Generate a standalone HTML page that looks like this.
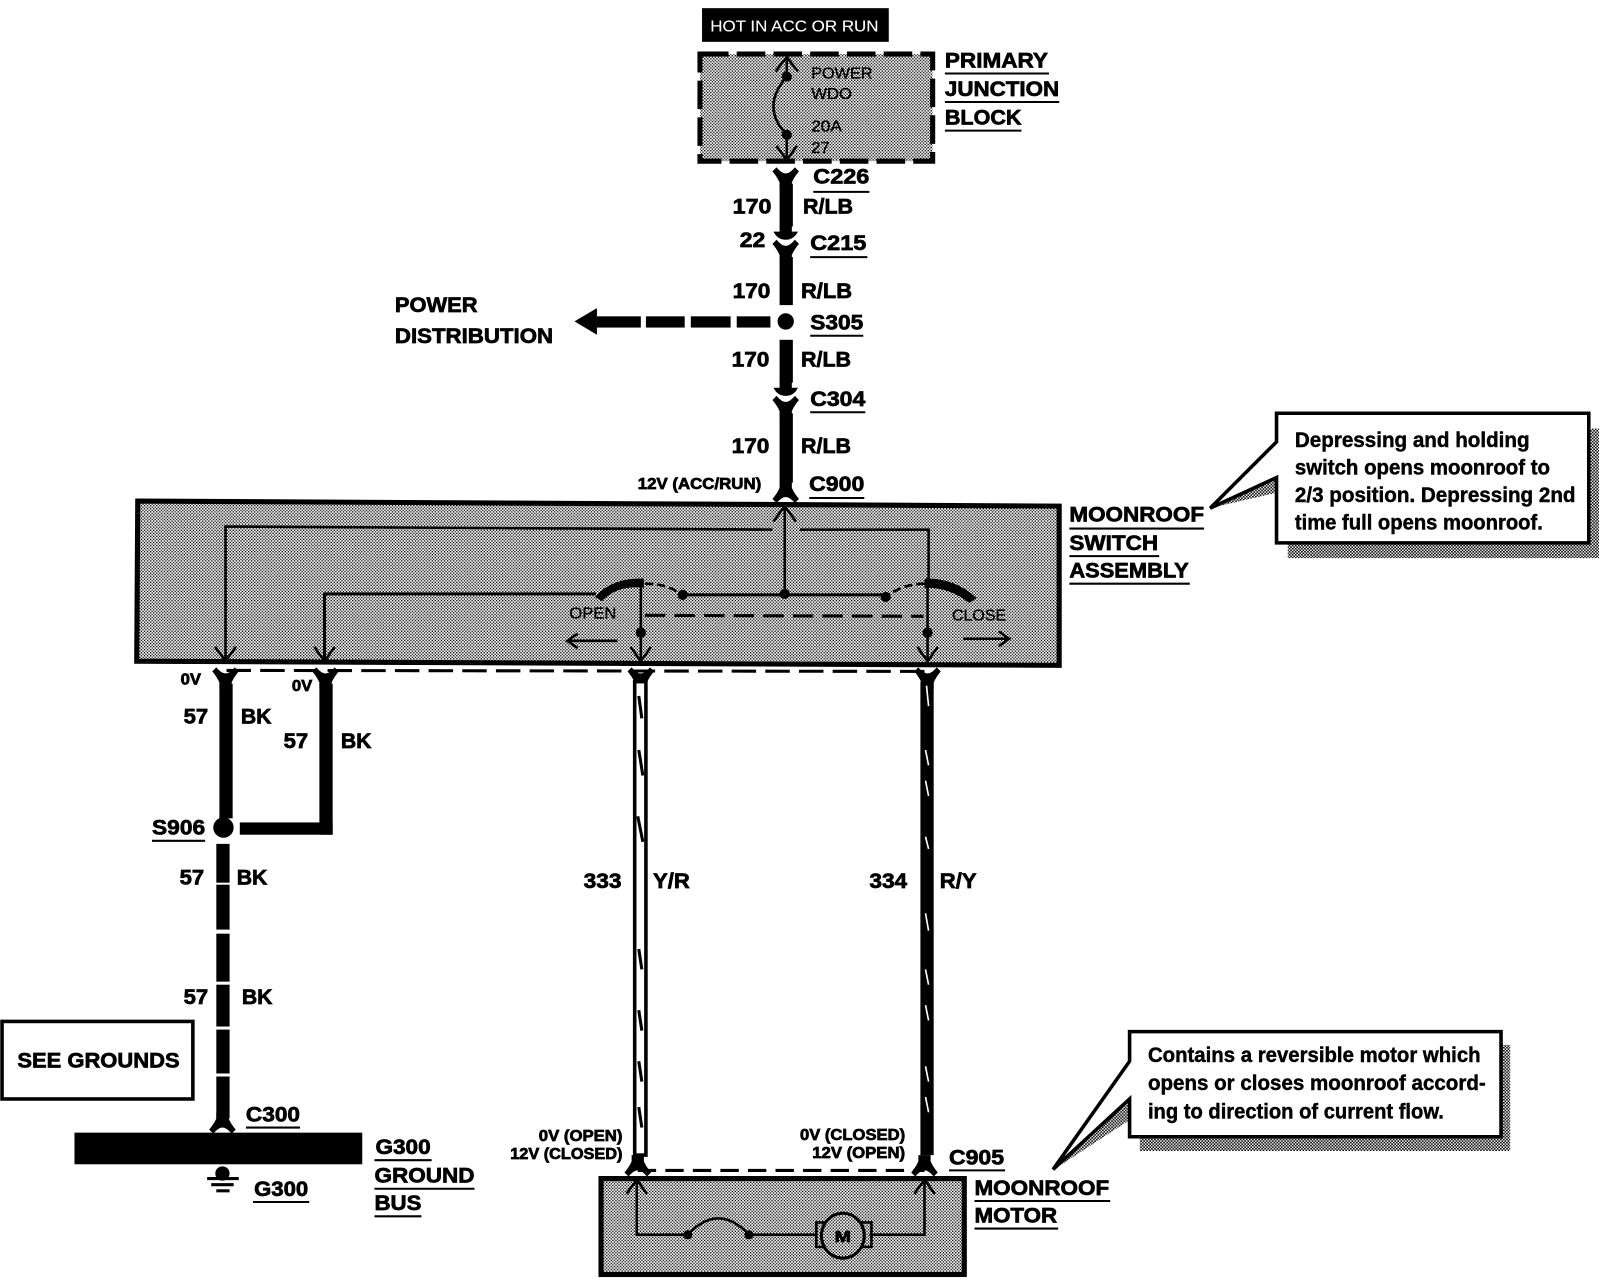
<!DOCTYPE html>
<html><head><meta charset="utf-8"><style>
html,body{margin:0;padding:0;background:#fff}
svg{display:block}
text{font-family:"Liberation Sans",sans-serif;font-weight:700;fill:#000;stroke:#000;stroke-width:.7}
.b{font-size:21px}.m{font-size:20px}.s{font-size:15px}
.t{font-size:21px;stroke-width:.45}
.n{font-weight:400;stroke-width:.35}
line,.l{stroke:#000;fill:none}
</style></head><body>
<svg width="1600" height="1280" viewBox="0 0 1568 1254.4" xmlns="http://www.w3.org/2000/svg">
<defs>
<pattern id="st" width="3" height="3" patternUnits="userSpaceOnUse"><rect width="3" height="3" fill="#fff"/><rect x="0" y="0" width="1.3" height="1.3" fill="#000"/><rect x="1.5" y="1.5" width="1.3" height="1.3" fill="#000"/></pattern>
<pattern id="sh" width="3" height="3" patternUnits="userSpaceOnUse"><rect width="3" height="3" fill="#fff"/><rect x="0" y="0" width="1.6" height="1.5" fill="#000"/><rect x="1.5" y="1.5" width="1.6" height="1.5" fill="#000"/></pattern>
<path id="y" d="M-13 1L-9-3Q-4 3 0 3Q4 3 9-3L13 1Q8 7 6 12L6 18L-6 18L-6 12Q-8 7-13 1Z" fill="#000"/>
<path id="c" d="M-6-14L6-14L6-8L12-8Q8 0 0 0Q-8 0-12-8L-6-8Z" fill="#000"/>
<path id="v" d="M-10-14L0 0L10-14" fill="none" stroke="#000" stroke-width="2.5"/>
</defs>
<rect width="1568" height="1255" fill="#fff"/>

<!-- top label and junction block -->
<rect x="688" y="8" width="183" height="33" fill="#000"/>
<text x="696" y="31" class="s" textLength="165" lengthAdjust="spacingAndGlyphs" style="fill:#fff;stroke:#fff;stroke-width:.1;font-weight:400">HOT IN ACC OR RUN</text>
<rect x="686" y="53" width="228" height="105" fill="url(#st)" stroke="#000" stroke-width="5" stroke-dasharray="28 8"/>
<path class="l" stroke-width="2.5" d="M771 56V75Q745 105 771 132V156"/>
<path class="l" stroke-width="2.5" d="M760 70L771 56L782 70"/>
<use href="#v" x="771" y="157"/>
<circle cx="771" cy="75" r="5"/><circle cx="771" cy="132" r="5"/>
<text x="795" y="77" class="s n" textLength="60" lengthAdjust="spacingAndGlyphs">POWER</text>
<text x="795" y="97" class="s n" textLength="40" lengthAdjust="spacingAndGlyphs">WDO</text>
<text x="795" y="129" class="s n" textLength="30" lengthAdjust="spacingAndGlyphs">20A</text>
<text x="795" y="150" class="s n" textLength="18" lengthAdjust="spacingAndGlyphs">27</text>
<text x="926" y="66" class="b" textLength="101" lengthAdjust="spacingAndGlyphs">PRIMARY</text>
<line x1="926" y1="72" x2="1028" y2="72" stroke-width="2"/>
<text x="926" y="94" class="b" textLength="112" lengthAdjust="spacingAndGlyphs">JUNCTION</text>
<line x1="926" y1="100" x2="1038" y2="100" stroke-width="2"/>
<text x="926" y="122" class="b" textLength="75" lengthAdjust="spacingAndGlyphs">BLOCK</text>
<line x1="926" y1="128" x2="1001" y2="128" stroke-width="2"/>

<!-- main vertical wire -->
<use href="#y" x="770" y="167"/>
<rect x="764" y="180" width="13" height="42"/>
<use href="#c" x="770" y="235"/>
<use href="#y" x="770" y="238"/>
<rect x="764" y="252" width="13" height="47"/>
<circle cx="770" cy="315" r="8"/>
<rect x="764" y="333" width="13" height="42"/>
<use href="#c" x="770" y="388"/>
<use href="#y" x="770" y="391"/>
<rect x="764" y="405" width="13" height="68"/>
<g transform="translate(770,490) scale(1,-1)"><use href="#y"/></g>
<g stroke="#fff" stroke-width="1.6">
<line x1="771" y1="193" x2="772" y2="207"/><line x1="770" y1="277" x2="773" y2="291"/>
<line x1="770" y1="340" x2="772" y2="358"/><line x1="770" y1="408" x2="773" y2="424"/>
</g>
<text x="797" y="180" class="b" textLength="55" lengthAdjust="spacingAndGlyphs">C226</text><line x1="797" y1="188" x2="852" y2="188" stroke-width="2"/>
<text x="718" y="209" class="b" textLength="38" lengthAdjust="spacingAndGlyphs">170</text>
<text x="787" y="209" class="b" textLength="49" lengthAdjust="spacingAndGlyphs">R/LB</text>
<text x="725" y="242" class="b" textLength="25" lengthAdjust="spacingAndGlyphs">22</text>
<text x="794" y="245" class="b" textLength="55" lengthAdjust="spacingAndGlyphs">C215</text><line x1="794" y1="252" x2="850" y2="252" stroke-width="2"/>
<text x="718" y="292" class="b" textLength="37" lengthAdjust="spacingAndGlyphs">170</text>
<text x="785" y="292" class="b" textLength="50" lengthAdjust="spacingAndGlyphs">R/LB</text>
<text x="794" y="323" class="b" textLength="52" lengthAdjust="spacingAndGlyphs">S305</text><line x1="794" y1="329" x2="846" y2="329" stroke-width="2"/>
<text x="717" y="359" class="b" textLength="37" lengthAdjust="spacingAndGlyphs">170</text>
<text x="785" y="359" class="b" textLength="49" lengthAdjust="spacingAndGlyphs">R/LB</text>
<text x="794" y="398" class="b" textLength="54" lengthAdjust="spacingAndGlyphs">C304</text><line x1="794" y1="404" x2="848" y2="404" stroke-width="2"/>
<text x="717" y="444" class="b" textLength="37" lengthAdjust="spacingAndGlyphs">170</text>
<text x="785" y="444" class="b" textLength="49" lengthAdjust="spacingAndGlyphs">R/LB</text>
<text x="625" y="479" class="s" textLength="121" lengthAdjust="spacingAndGlyphs">12V (ACC/RUN)</text>
<text x="793" y="481" class="b" textLength="54" lengthAdjust="spacingAndGlyphs">C900</text><line x1="793" y1="488" x2="847" y2="488" stroke-width="2"/>

<!-- power distribution arrow -->
<path d="M563 315L585 302V328Z"/>
<rect x="585" y="310" width="43" height="11"/><rect x="633" y="310" width="38" height="11"/><rect x="677" y="310" width="39" height="11"/><rect x="722" y="310" width="33" height="11"/>
<g stroke="#fff" stroke-width="1.5"><line x1="600" y1="316" x2="612" y2="314"/><line x1="646" y1="316" x2="658" y2="314"/><line x1="690" y1="316" x2="702" y2="314"/><line x1="733" y1="316" x2="745" y2="314"/></g>
<text x="387" y="306" class="b" textLength="81" lengthAdjust="spacingAndGlyphs">POWER</text>
<text x="387" y="336" class="b" textLength="155" lengthAdjust="spacingAndGlyphs">DISTRIBUTION</text>

<!-- moonroof switch assembly -->
<path d="M135 491L1038 496V652L134 648Z" fill="url(#st)" stroke="#000" stroke-width="5"/>
<path class="l" stroke-width="2.5" d="M221 648V516L757 519"/>
<path class="l" stroke-width="2.5" d="M784 519H910V570"/>
<path class="l" stroke-width="2.5" d="M769 495V582"/>
<path class="l" stroke-width="2.5" d="M758 511L769 496L780 511"/>
<path class="l" stroke-width="3" d="M669 583H868"/>
<path class="l" stroke-width="3" d="M318 648V582H584"/>
<use href="#v" x="221" y="648"/><use href="#v" x="318" y="648"/><use href="#v" x="628" y="648"/><use href="#v" x="909" y="648"/>
<circle cx="669" cy="583" r="5"/><circle cx="769" cy="582" r="5"/><circle cx="868" cy="585" r="5"/>
<path d="M583 585Q600 566 631 567L631 576Q605 573 590 589Z"/>
<path d="M957 586Q935 566 906 567L906 576Q930 575 950 591Z"/>
<path class="l" stroke-width="2.5" stroke-dasharray="8 4" d="M632 572Q655 572 668 583"/>
<path class="l" stroke-width="2.5" stroke-dasharray="8 4" d="M906 572Q885 572 868 585"/>
<line x1="628" y1="572" x2="628" y2="648" stroke-width="2.5"/>
<line x1="909" y1="572" x2="909" y2="648" stroke-width="2.5"/>
<circle cx="628" cy="620" r="5"/><circle cx="909" cy="620" r="5"/>
<line x1="632" y1="603" x2="905" y2="604" stroke-width="3" stroke-dasharray="20 9"/>
<text x="558" y="606" class="s n" textLength="46" lengthAdjust="spacingAndGlyphs">OPEN</text>
<text x="933" y="608" class="s n" textLength="53" lengthAdjust="spacingAndGlyphs">CLOSE</text>
<path class="l" stroke-width="2.5" d="M605 628H556M566 621L556 628L566 635"/>
<path class="l" stroke-width="2.5" d="M944 626H989M979 619L989 626L979 633"/>
<text x="1048" y="511" class="b" textLength="132" lengthAdjust="spacingAndGlyphs">MOONROOF</text><line x1="1048" y1="518" x2="1180" y2="518" stroke-width="2"/>
<text x="1048" y="539" class="b" textLength="87" lengthAdjust="spacingAndGlyphs">SWITCH</text><line x1="1048" y1="545" x2="1136" y2="545" stroke-width="2"/>
<text x="1048" y="566" class="b" textLength="117" lengthAdjust="spacingAndGlyphs">ASSEMBLY</text><line x1="1048" y1="572" x2="1166" y2="572" stroke-width="2"/>

<!-- C900 lower -->
<line x1="222" y1="657" x2="910" y2="658" stroke-width="3" stroke-dasharray="24 9"/>
<use href="#y" x="221" y="657"/><use href="#y" x="319" y="657"/><use href="#y" x="628" y="657"/><use href="#y" x="909" y="657"/>
<rect x="215" y="670" width="13" height="132"/>
<rect x="313" y="670" width="13" height="148"/>
<rect x="235" y="806" width="91" height="12"/>
<circle cx="219" cy="811" r="10"/>
<rect x="212" y="827" width="13" height="38"/><rect x="212" y="867" width="13" height="44"/><rect x="212" y="915" width="13" height="47"/>
<rect x="212" y="965" width="13" height="41"/><rect x="212" y="1009" width="13" height="43"/>
<rect x="212" y="1055" width="13" height="41"/>
<g transform="translate(218,1108) scale(1,-1)"><use href="#y"/></g>
<text x="177" y="671" class="s" textLength="20" lengthAdjust="spacingAndGlyphs">0V</text>
<text x="286" y="677" class="s" textLength="20" lengthAdjust="spacingAndGlyphs">0V</text>
<text x="180" y="709" class="b" textLength="24" lengthAdjust="spacingAndGlyphs">57</text>
<text x="236" y="709" class="b" textLength="30" lengthAdjust="spacingAndGlyphs">BK</text>
<text x="278" y="733" class="b" textLength="24" lengthAdjust="spacingAndGlyphs">57</text>
<text x="334" y="733" class="b" textLength="30" lengthAdjust="spacingAndGlyphs">BK</text>
<text x="149" y="818" class="b" textLength="52" lengthAdjust="spacingAndGlyphs">S906</text><line x1="149" y1="824" x2="201" y2="824" stroke-width="2"/>
<text x="176" y="867" class="b" textLength="24" lengthAdjust="spacingAndGlyphs">57</text>
<text x="232" y="867" class="b" textLength="30" lengthAdjust="spacingAndGlyphs">BK</text>
<text x="180" y="984" class="b" textLength="24" lengthAdjust="spacingAndGlyphs">57</text>
<text x="237" y="984" class="b" textLength="30" lengthAdjust="spacingAndGlyphs">BK</text>

<!-- see grounds / bus -->
<rect x="2" y="1001" width="187" height="76" fill="#fff" stroke="#000" stroke-width="3.5"/>
<text x="17" y="1046" class="b" textLength="159" lengthAdjust="spacingAndGlyphs">SEE GROUNDS</text>
<rect x="73" y="1110" width="282" height="31"/>
<circle cx="218" cy="1150" r="7"/>
<line x1="203" y1="1155" x2="234" y2="1155" stroke-width="3"/><line x1="207" y1="1161" x2="229" y2="1161" stroke-width="3"/><line x1="212" y1="1167" x2="225" y2="1167" stroke-width="3"/>
<text x="241" y="1099" class="b" textLength="53" lengthAdjust="spacingAndGlyphs">C300</text><line x1="241" y1="1105" x2="294" y2="1105" stroke-width="2"/>
<text x="249" y="1172" class="b" textLength="53" lengthAdjust="spacingAndGlyphs">G300</text><line x1="248" y1="1178" x2="303" y2="1178" stroke-width="2"/>
<text x="368" y="1131" class="b" textLength="54" lengthAdjust="spacingAndGlyphs">G300</text><line x1="367" y1="1137" x2="423" y2="1137" stroke-width="2"/>
<text x="367" y="1159" class="b" textLength="98" lengthAdjust="spacingAndGlyphs">GROUND</text><line x1="367" y1="1165" x2="465" y2="1165" stroke-width="2"/>
<text x="367" y="1186" class="b" textLength="46" lengthAdjust="spacingAndGlyphs">BUS</text><line x1="367" y1="1192" x2="413" y2="1192" stroke-width="2"/>

<!-- 333 / 334 wires -->
<rect x="622" y="668" width="11" height="464" fill="#fff" stroke="#000" stroke-width="3.5"/>
<rect x="902" y="668" width="13" height="464"/>
<path stroke="#000" stroke-width="3" fill="none" d="M626 682L629 704M626 735L630 760M625 800L630 825M626 930L629 950M626 990L629 1010M626 1040L629 1060M626 1085L629 1105"/>
<path stroke="#fff" stroke-width="1.6" fill="none" d="M908 672L910 692M907 735L910 750M907 765L910 780M907 820L910 832M907 895L910 912M907 950L910 965M907 985L910 1000M907 1045L910 1060M907 1075L910 1090"/>
<text x="572" y="870" class="b" textLength="37" lengthAdjust="spacingAndGlyphs">333</text>
<text x="640" y="870" class="b" textLength="36" lengthAdjust="spacingAndGlyphs">Y/R</text>
<text x="852" y="870" class="b" textLength="37" lengthAdjust="spacingAndGlyphs">334</text>
<text x="921" y="870" class="b" textLength="36" lengthAdjust="spacingAndGlyphs">R/Y</text>

<!-- motor -->
<line x1="625" y1="1147" x2="906" y2="1147" stroke-width="3" stroke-dasharray="18 9"/>
<g transform="translate(625,1150) scale(1,-1)"><use href="#y"/></g>
<g transform="translate(906,1150) scale(1,-1)"><use href="#y"/></g>
<text x="528" y="1118" class="s" textLength="82" lengthAdjust="spacingAndGlyphs">0V (OPEN)</text>
<text x="500" y="1136" class="s" textLength="110" lengthAdjust="spacingAndGlyphs">12V (CLOSED)</text>
<text x="784" y="1117" class="s" textLength="103" lengthAdjust="spacingAndGlyphs">0V (CLOSED)</text>
<text x="796" y="1135" class="s" textLength="91" lengthAdjust="spacingAndGlyphs">12V (OPEN)</text>
<text x="930" y="1141" class="b" textLength="54" lengthAdjust="spacingAndGlyphs">C905</text><line x1="930" y1="1147" x2="985" y2="1147" stroke-width="2"/>
<text x="955" y="1171" class="b" textLength="132" lengthAdjust="spacingAndGlyphs">MOONROOF</text><line x1="955" y1="1177" x2="1088" y2="1177" stroke-width="2"/>
<text x="955" y="1198" class="b" textLength="81" lengthAdjust="spacingAndGlyphs">MOTOR</text><line x1="955" y1="1204" x2="1037" y2="1204" stroke-width="2"/>
<rect x="589" y="1155" width="356" height="94" fill="url(#st)" stroke="#000" stroke-width="5"/>
<path class="l" stroke-width="2.5" d="M624 1156V1210H674M734 1210H800M852 1210H906V1156"/>
<path class="l" stroke-width="2.5" d="M614 1170L624 1156L634 1170M896 1170L906 1156L916 1170"/>
<path class="l" stroke-width="2.5" d="M674 1210Q704 1178 734 1210"/>
<circle cx="674" cy="1210" r="4.5"/><circle cx="734" cy="1210" r="4.5"/>
<rect x="800" y="1198" width="54" height="24" fill="none" stroke="#000" stroke-width="2.5"/>
<ellipse cx="826" cy="1211" rx="21" ry="22" fill="url(#st)" stroke="#000" stroke-width="3"/>
<text x="818" y="1217" class="s" textLength="16" lengthAdjust="spacingAndGlyphs">M</text>

<!-- callouts -->
<path d="M1262 420H1567V547H1262Z" fill="url(#sh)"/>
<path d="M1190 497L1255 466V482Z" fill="url(#sh)"/>
<path d="M1251 405H1557V532H1251V468L1186 498L1251 433Z" fill="#fff" stroke="#000" stroke-width="3.5"/>
<text x="1269" y="438" class="t" textLength="230" lengthAdjust="spacingAndGlyphs">Depressing and holding</text>
<text x="1269" y="465" class="t" textLength="250" lengthAdjust="spacingAndGlyphs">switch opens moonroof to</text>
<text x="1269" y="492" class="t" textLength="275" lengthAdjust="spacingAndGlyphs">2/3 position. Depressing 2nd</text>
<text x="1269" y="519" class="t" textLength="243" lengthAdjust="spacingAndGlyphs">time full opens moonroof.</text>

<path d="M1117 1024H1480V1128H1117Z" fill="url(#sh)"/>
<path d="M1036 1144L1111 1075V1095Z" fill="url(#sh)"/>
<path d="M1107 1011H1471V1114H1107V1077L1032 1146L1107 1040Z" fill="#fff" stroke="#000" stroke-width="3.5"/>
<text x="1125" y="1041" class="t" textLength="326" lengthAdjust="spacingAndGlyphs">Contains a reversible motor which</text>
<text x="1125" y="1068" class="t" textLength="331" lengthAdjust="spacingAndGlyphs">opens or closes moonroof accord-</text>
<text x="1125" y="1096" class="t" textLength="290" lengthAdjust="spacingAndGlyphs">ing to direction of current flow.</text>
</svg>
</body></html>
